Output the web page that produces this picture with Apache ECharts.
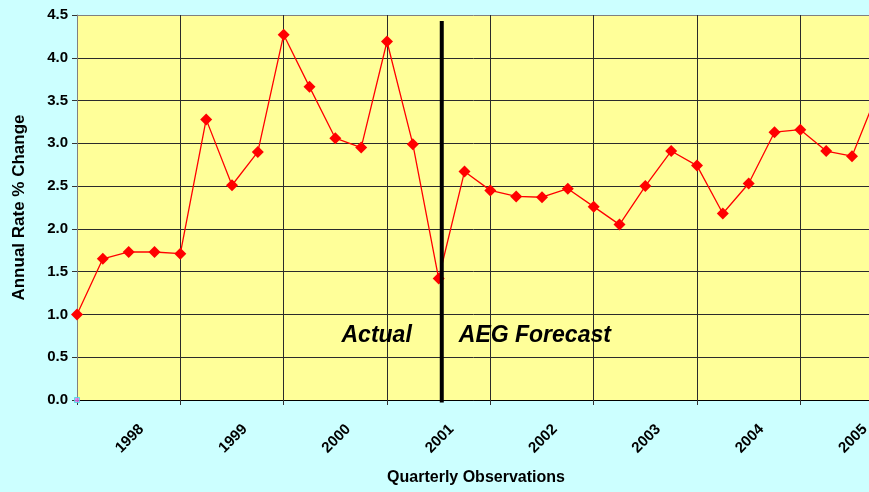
<!DOCTYPE html>
<html>
<head>
<meta charset="utf-8">
<script src="https://cdn.jsdelivr.net/npm/echarts@6/dist/echarts.min.js"></script>
<style>
  html, body { margin: 0; padding: 0; background: #CCFFFF; }
  #chart { width: 869px; height: 492px; }
</style>
</head>
<body>
<div id="chart"></div>
<script>
// Quarterly observations (annual rate, % change)
const quarters = [
  '1997Q4',
  '1998Q1', '1998Q2', '1998Q3', '1998Q4',
  '1999Q1', '1999Q2', '1999Q3', '1999Q4',
  '2000Q1', '2000Q2', '2000Q3', '2000Q4',
  '2001Q1', '2001Q2', '2001Q3', '2001Q4',
  '2002Q1', '2002Q2', '2002Q3', '2002Q4',
  '2003Q1', '2003Q2', '2003Q3', '2003Q4',
  '2004Q1', '2004Q2', '2004Q3', '2004Q4',
  '2005Q1', '2005Q2', '2005Q3'
];
const rates = [
  1.00,
  1.65, 1.73, 1.73, 1.71,
  3.28, 2.51, 2.90, 4.27,
  3.66, 3.06, 2.95, 4.19,
  2.99, 1.42, 2.67, 2.45,
  2.38, 2.37, 2.47, 2.26,
  2.05, 2.50, 2.91, 2.74,
  2.18, 2.53, 3.13, 3.16,
  2.91, 2.85, 3.60
];
const years = ['1998', '1999', '2000', '2001', '2002', '2003', '2004', '2005'];
const baseSeries = [0];
const yTicks = [0, 0.5, 1.0, 1.5, 2.0, 2.5, 3.0, 3.5, 4.0, 4.5];
// boundary between actual data and forecast, in quarter units
const forecastBoundary = 14.12;

const font = 'Arial, "Liberation Sans", sans-serif';

// year label sits in the middle of its four quarters
const yearPos = years.map(y => quarters.indexOf(y + 'Q1') + 1.5);

const lineData = rates.map((v, i) => [i, v]);

const splitColors = yTicks.map((t, i) => i === yTicks.length - 1 ? '#808080' : '#2b2b2b');

const option = {
  backgroundColor: '#CCFFFF',
  animation: false,
  grid: {
    left: 77, top: 15, bottom: 92, right: -138,
    show: true, backgroundColor: '#FFFF99', borderWidth: 0,
    containLabel: false,
    outerBoundsMode: 'none'
  },
  xAxis: {
    type: 'value',
    min: 0, max: 36, interval: 4,
    axisLine: { show: true, lineStyle: { color: '#000', width: 1 } },
    axisTick: { show: true, inside: false, length: 5, lineStyle: { color: '#333' } },
    splitLine: { show: true, lineStyle: { color: '#2b2b2b', width: 1 } },
    axisLabel: {
      customValues: yearPos,
      rotate: 45,
      margin: 27,
      fontFamily: font, fontWeight: 'bold', fontSize: 15, color: '#000',
      formatter: v => years[yearPos.indexOf(v)] || ''
    }
  },
  yAxis: {
    type: 'value',
    min: 0, max: 4.5, interval: 0.5,
    name: 'Annual Rate % Change',
    nameLocation: 'middle',
    nameGap: 49,
    nameMoveOverlap: false,
    nameTextStyle: { fontFamily: font, fontWeight: 'bold', fontSize: 17, color: '#000' },
    axisLine: { show: true, lineStyle: { color: '#808080', width: 1 } },
    axisTick: { show: true, inside: false, length: 5, lineStyle: { color: '#333' } },
    splitLine: { show: true, lineStyle: { color: splitColors, width: 1 } },
    axisLabel: {
      margin: 9,
      fontFamily: font, fontWeight: 'bold', fontSize: 15, color: '#000',
      formatter: v => v.toFixed(1)
    }
  },
  series: [
    {
      name: 'Annual Rate',
      type: 'line',
      data: lineData,
      clip: true,
      symbol: 'path://M0,-1L1,0L0,1L-1,0Z',
      symbolSize: 12,
      itemStyle: { color: '#FF0000' },
      lineStyle: { color: '#FF0000', width: 1.3 },
      z: 5
    },
    {
      name: 'Base',
      type: 'scatter',
      data: baseSeries.map((v, i) => [i, v]),
      symbol: 'rect',
      symbolSize: 5,
      itemStyle: { color: '#E070F0', borderColor: '#40E0E0', borderWidth: 1 },
      z: 6
    }
  ]
};

const chart = echarts.init(document.getElementById('chart'), null, { renderer: 'canvas' });
chart.setOption(option);

const pTop = chart.convertToPixel({ gridIndex: 0 }, [forecastBoundary, 4.43]);
const pBot = chart.convertToPixel({ gridIndex: 0 }, [forecastBoundary, -0.03]);

chart.setOption({
  graphic: [
    {
      type: 'line',
      shape: { x1: pTop[0], y1: pTop[1], x2: pBot[0], y2: pBot[1] },
      style: { stroke: '#000', lineWidth: 4 },
      z: 10
    },
    {
      type: 'text',
      x: pTop[0] - 30, y: 336,
      style: {
        text: 'Actual', fill: '#000',
        font: 'italic bold 23px ' + font,
        textAlign: 'right', textVerticalAlign: 'middle'
      },
      z: 10
    },
    {
      type: 'text',
      x: pTop[0] + 17, y: 336,
      style: {
        text: 'AEG Forecast', fill: '#000',
        font: 'italic bold 23px ' + font,
        textAlign: 'left', textVerticalAlign: 'middle'
      },
      z: 10
    },
    {
      type: 'text',
      x: 476, y: 478,
      style: {
        text: 'Quarterly Observations', fill: '#000',
        font: 'bold 16px ' + font,
        textAlign: 'center', textVerticalAlign: 'middle'
      },
      z: 10
    }
  ]
});
</script>
</body>
</html>
